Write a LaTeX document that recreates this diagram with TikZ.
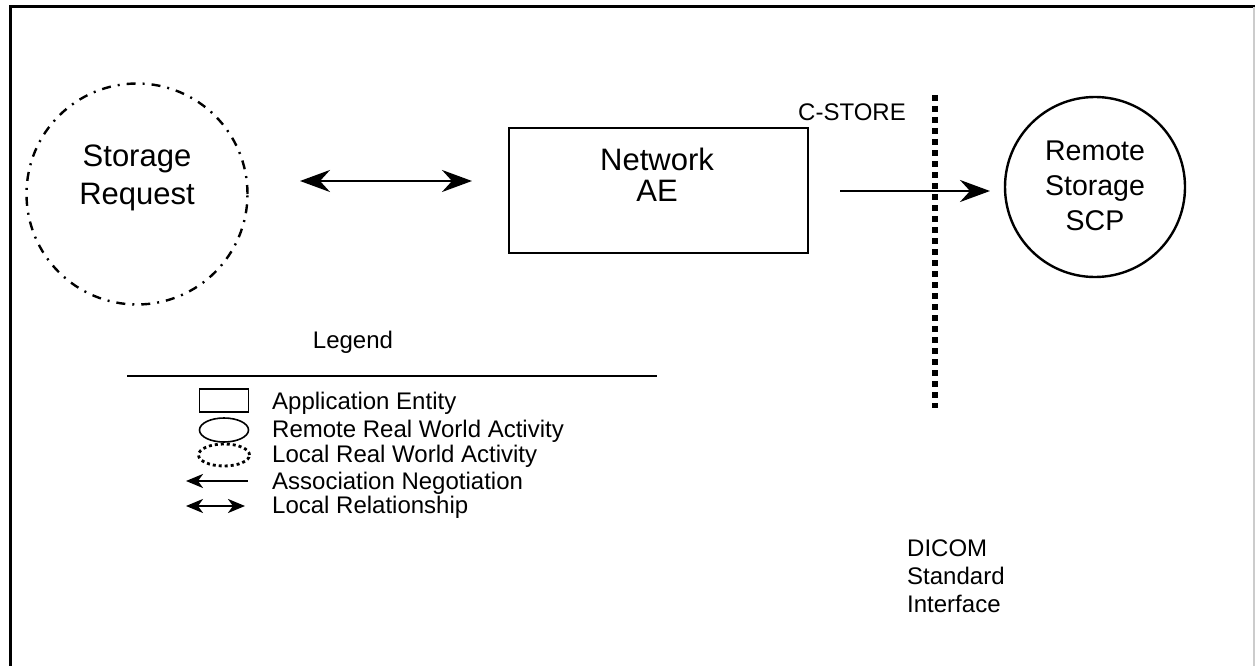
\documentclass[tikz,border=0pt]{standalone}
\usepackage{fontspec}
\setmainfont{Liberation Sans}
\usetikzlibrary{arrows.meta,positioning,shapes.geometric}

\begin{document}
\begin{tikzpicture}[
  x=1pt, y=-1pt,
  bigtxt/.style ={font=\fontsize{31}{36}\selectfont, align=center, inner sep=0pt},
  smalltxt/.style={font=\fontsize{24}{28}\selectfont, inner sep=0pt},
  ae/.style     ={draw, line width=2.6pt, rectangle, inner sep=0pt},
  rwa/.style    ={draw, line width=2.4pt, circle, inner sep=0pt},
  lrwa/.style   ={draw, line width=2.4pt, circle, inner sep=0pt,
                  dash pattern=on 9pt off 7pt on 2pt off 7pt},
  flow/.style   ={-{Stealth[length=30pt,width=22pt,inset=10pt]}, line width=2.6pt},
  both/.style   ={{Stealth[length=30pt,width=22pt,inset=10pt]}-{Stealth[length=30pt,width=22pt,inset=10pt]}, line width=2.6pt},
  lflow/.style  ={{Stealth[length=17pt,width=14pt,inset=5pt]}-, line width=2.4pt},
  lboth/.style  ={{Stealth[length=17pt,width=14pt,inset=5pt]}-{Stealth[length=17pt,width=14pt,inset=5pt]}, line width=2.4pt},
]
\useasboundingbox (0,0) rectangle (1255,666);

% frame
\draw[line width=3pt] (10,666) -- (10,7) -- (1255,7);
\draw[black!20, line width=1.5pt] (1254,7) -- (1254,666);

% ================= MAIN ROW =================
% (base anchor = baseline of the last line)
\node[lrwa, minimum size=221pt] (req) at (137,194) {};
\node[bigtxt, font=\fontsize{31}{38}\selectfont, anchor=base] (reqtxt) at (137,204) {Storage\\Request};

\node[ae, minimum width=299pt, minimum height=125pt] (net) at (658.5,190.5) {};
\node[bigtxt, font=\fontsize{31}{31}\selectfont, anchor=base] (nettxt) at (657,201) {Network\\AE};

\coordinate (lrL) at (300,181);
\coordinate (lrR) at (472,181);
\draw[both] (lrL) -- (lrR);

\node[rwa, minimum size=180pt] (scp) at (1095,187) {};
\node[bigtxt, font=\fontsize{28.5}{35}\selectfont, anchor=base] (scptxt) at (1095,230) {Remote\\Storage\\SCP};

\coordinate (cstoreS) at (840,191);
\coordinate (cstoreE) at (990,191);
\draw[flow] (cstoreS) -- (cstoreE);

% DICOM interface
\coordinate (ifTop) at (935,95);
\coordinate (ifBot) at (935,408);
\draw[line width=6pt, dash pattern=on 6pt off 5pt] (ifTop) -- (ifBot);
\node[smalltxt, anchor=base east] (cstore) at (906,121) {C-STORE};
\node[smalltxt, anchor=base west, align=left] (dicom) at (907,612) {DICOM\\Standard\\Interface};

% ================= LEGEND =================
\node[smalltxt, anchor=base] (legend) at (353,348) {Legend};
\coordinate (legL) at (127,376);
\coordinate (legR) at (657,376);
\draw[line width=1.6pt] (legL) -- (legR);

\node[draw, line width=1.6pt, minimum width=49pt, minimum height=23pt, inner sep=0pt] (kAE) at (224,400.5) {};
\node[draw, line width=1.6pt, ellipse, minimum width=49pt, minimum height=24pt, inner sep=0pt] (kRWA) at (224,430) {};
\node[draw, line width=2.8pt, dash pattern=on 3pt off 3pt, ellipse, minimum width=51pt, minimum height=22pt, inner sep=0pt] (kLRWA) at (224,455) {};
\coordinate (kANl) at (186,481);
\coordinate (kANr) at (248,481);
\draw[lflow] (kANl) -- (kANr);
\coordinate (kLRl) at (186,506);
\coordinate (kLRr) at (245,506);
\draw[lboth] (kLRl) -- (kLRr);

\node[smalltxt, anchor=base west] (tAE)   at (272,409) {Application Entity};
\node[smalltxt, anchor=base west] (tRWA)  at (272,437) {Remote Real World Activity};
\node[smalltxt, anchor=base west] (tLRWA) at (272,462) {Local Real World Activity};
\node[smalltxt, anchor=base west] (tAN)   at (272,489) {Association Negotiation};
\node[smalltxt, anchor=base west] (tLR)   at (272,513) {Local Relationship};

\end{tikzpicture}
\end{document}
